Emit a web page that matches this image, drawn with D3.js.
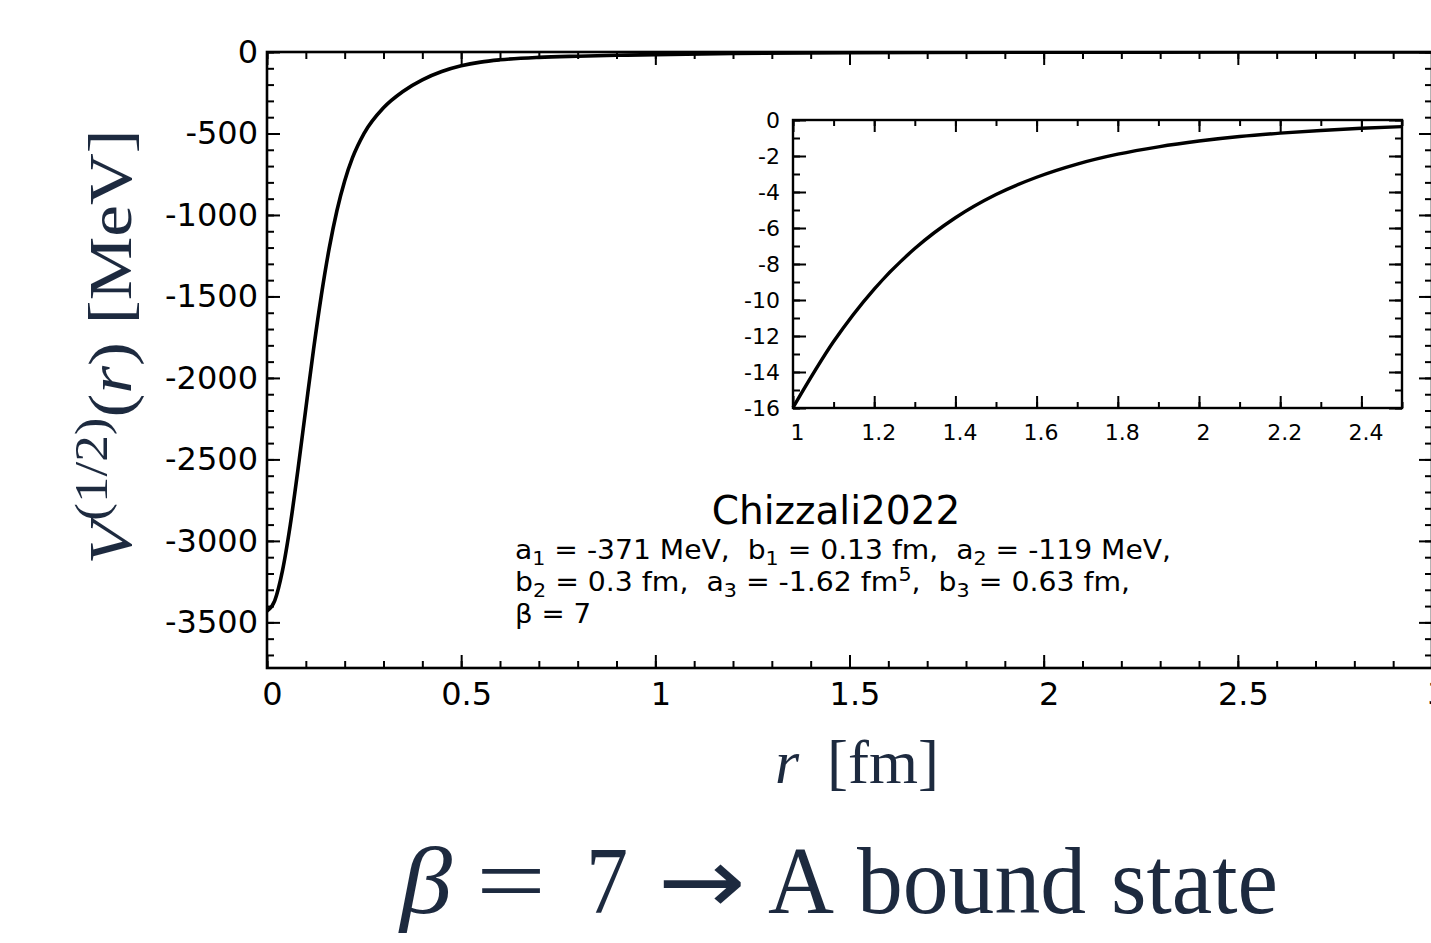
<!DOCTYPE html>
<html>
<head>
<meta charset="utf-8">
<script src="https://cdn.jsdelivr.net/npm/d3@7"></script>
<style>
  body { margin: 0; background: #fff; }
  text { white-space: pre; }
</style>
</head>
<body>
<div id="chart"></div>
<script>
// Canvas
var width = 1431;
var height = 943;

// Main curve: r [fm] and V [MeV]
const rMain = [0, 0.02, 0.04, 0.06, 0.08, 0.10, 0.12, 0.14, 0.16, 0.18, 0.20, 0.22, 0.25,
               0.30, 0.35, 0.40, 0.45, 0.50, 0.55, 0.60, 0.70, 0.80, 0.90, 1.0, 1.2, 1.5,
               2.0, 2.5, 3.0];
const vMain = [-3430, -3366, -3181, -2901, -2557, -2187, -1823, -1492, -1207, -974, -791, -650, -499,
               -342, -242, -171, -120, -85, -62, -48, -33, -25.7, -20.4, -16.0, -9.4, -4.1,
               -1.2, -0.4, -0.1];

// Inset curve (zoom of the tail)
const rInset = [1.0, 1.1, 1.2, 1.3, 1.4, 1.5, 1.6, 1.7, 1.8, 1.9, 2.0, 2.1, 2.2, 2.3, 2.4, 2.5];
const vInset = [-15.98, -12.31, -9.39, -7.14, -5.43, -4.14, -3.18, -2.45, -1.90, -1.49, -1.17,
                -0.92, -0.73, -0.58, -0.46, -0.37];

// Tick labels
const xMajor = [0, 0.5, 1, 1.5, 2, 2.5, 3];
const yMajor = [0, -500, -1000, -1500, -2000, -2500, -3000, -3500];
const xInsetMajor = [1, 1.2, 1.4, 1.6, 1.8, 2, 2.2, 2.4];
const yInsetMajor = [0, -2, -4, -6, -8, -10, -12, -14, -16];

// Annotation
const modelName = "Chizzali2022";

var sans = "'DejaVu Sans', Verdana, sans-serif";
var serif = "'Liberation Serif', 'DejaVu Serif', serif";
var navy = "#1d2a3f";

var svg = d3.select("#chart").append("svg")
  .attr("width", width)
  .attr("height", height)
  .style("display", "block");

svg.append("rect").attr("width", width).attr("height", height).attr("fill", "#fff");

// Scales
var x = d3.scaleLinear().domain([0, 3]).range([267, 1432]);
var y = d3.scaleLinear().domain([-3780, 0]).range([668, 52]);
var xi = d3.scaleLinear().domain([1, 2.5]).range([793, 1402]);
var yi = d3.scaleLinear().domain([-16, 0]).range([408, 120]);

// draw a set of inward ticks with d3 axis, domain path removed
function drawAxis(axis, tx, ty, fontSize, strokeW) {
  var g = svg.append("g")
    .attr("transform", "translate(" + tx + "," + ty + ")")
    .call(axis);
  g.select(".domain").remove();
  g.selectAll(".tick line").attr("stroke", "#000").attr("stroke-width", strokeW);
  g.selectAll(".tick text")
    .attr("fill", "#000")
    .style("font-family", sans)
    .style("font-size", fontSize + "px");
  return g;
}

var fmt = function(d) { return String(d); };

// MAIN PLOT //
var xMinor = d3.range(0, 3.001, 0.1);
var yMinor = d3.range(-3700, 1, 100);

svg.append("clipPath").attr("id", "clipMain")
  .append("rect").attr("x", 267).attr("y", 52).attr("width", 1432 - 267).attr("height", 668 - 52);

var line = d3.line()
  .x(function(d) { return x(d[0]); })
  .y(function(d) { return y(d[1]); })
  .curve(d3.curveMonotoneX);

svg.append("path")
  .datum(rMain.map(function(r, i) { return [r, vMain[i]]; }))
  .attr("clip-path", "url(#clipMain)")
  .attr("fill", "none")
  .attr("stroke", "#000")
  .attr("stroke-width", 3.6)
  .attr("d", line);

// bottom
drawAxis(d3.axisBottom(x).tickValues(xMinor).tickSize(-7).tickFormat(""), 0, 668, 32, 2);
var bx = drawAxis(d3.axisBottom(x).tickValues(xMajor).tickSize(-13).tickPadding(14).tickFormat(fmt), 0, 668, 32, 2);
bx.selectAll(".tick text").attr("dx", 5);
// top
drawAxis(d3.axisTop(x).tickValues(xMinor).tickSize(-7).tickFormat(""), 0, 52, 32, 2);
drawAxis(d3.axisTop(x).tickValues(xMajor).tickSize(-13).tickFormat(""), 0, 52, 32, 2);
// left
drawAxis(d3.axisLeft(y).tickValues(yMinor).tickSize(-7).tickFormat(""), 267, 0, 32, 2);
drawAxis(d3.axisLeft(y).tickValues(yMajor).tickSize(-13).tickPadding(9).tickFormat(fmt), 267, 0, 32, 2);
// right
drawAxis(d3.axisRight(y).tickValues(yMinor).tickSize(-7).tickFormat(""), 1432, 0, 32, 2);
drawAxis(d3.axisRight(y).tickValues(yMajor).tickSize(-13).tickFormat(""), 1432, 0, 32, 2);

svg.append("rect")
  .attr("x", 267).attr("y", 52).attr("width", 1432 - 267).attr("height", 668 - 52)
  .attr("fill", "none").attr("stroke", "#000").attr("stroke-width", 2.6);

// INSET //
svg.append("rect")
  .attr("x", 793).attr("y", 120).attr("width", 1402 - 793).attr("height", 408 - 120)
  .attr("fill", "#fff");

var xiMinor = d3.range(1, 2.501, 0.1);
var yiMinor = d3.range(-16, 0.001, 1);

var lineInset = d3.line()
  .x(function(d) { return xi(d[0]); })
  .y(function(d) { return yi(d[1]); })
  .curve(d3.curveMonotoneX);

svg.append("path")
  .datum(rInset.map(function(r, i) { return [r, vInset[i]]; }))
  .attr("fill", "none")
  .attr("stroke", "#000")
  .attr("stroke-width", 3.4)
  .attr("d", lineInset);

drawAxis(d3.axisBottom(xi).tickValues(xiMinor).tickSize(-6).tickFormat(""), 0, 408, 22, 2);
var bxi = drawAxis(d3.axisBottom(xi).tickValues(xInsetMajor).tickSize(-12).tickPadding(16).tickFormat(fmt), 0, 408, 22, 2);
bxi.selectAll(".tick text").attr("dx", 4);
drawAxis(d3.axisTop(xi).tickValues(xiMinor).tickSize(-6).tickFormat(""), 0, 120, 22, 2);
drawAxis(d3.axisTop(xi).tickValues(xInsetMajor).tickSize(-12).tickFormat(""), 0, 120, 22, 2);
drawAxis(d3.axisLeft(yi).tickValues(yiMinor).tickSize(-7).tickFormat(""), 793, 0, 22, 2);
drawAxis(d3.axisLeft(yi).tickValues(yInsetMajor).tickSize(-13).tickPadding(13).tickFormat(fmt), 793, 0, 22, 2);
drawAxis(d3.axisRight(yi).tickValues(yiMinor).tickSize(-7).tickFormat(""), 1402, 0, 22, 2);
drawAxis(d3.axisRight(yi).tickValues(yInsetMajor).tickSize(-13).tickFormat(""), 1402, 0, 22, 2);

svg.append("rect")
  .attr("x", 793).attr("y", 120).attr("width", 1402 - 793).attr("height", 408 - 120)
  .attr("fill", "none").attr("stroke", "#000").attr("stroke-width", 2.4);

// ANNOTATION //
svg.append("text")
  .attr("x", 836).attr("y", 524)
  .attr("text-anchor", "middle")
  .style("font-family", sans).style("font-size", "39px")
  .text(modelName);

// each line: list of [text, kind] with kind "", "sub" or "sup"
const paramLines = [
  [["a", ""], ["1", "sub"], [" = -371 MeV,  b", ""], ["1", "sub"], [" = 0.13 fm,  a", ""], ["2", "sub"], [" = -119 MeV,", ""]],
  [["b", ""], ["2", "sub"], [" = 0.3 fm,  a", ""], ["3", "sub"], [" = -1.62 fm", ""], ["5", "sup"], [",  b", ""], ["3", "sub"], [" = 0.63 fm,", ""]],
  [["β = 7", ""]]
];
var lineBase = [559, 591, 623];
var lineWidth = [656, 615, 76];

paramLines.forEach(function(parts, li) {
  var t = svg.append("text")
    .attr("x", 515).attr("y", lineBase[li])
    .attr("textLength", lineWidth[li])
    .attr("lengthAdjust", "spacingAndGlyphs")
    .style("font-family", sans).style("font-size", "26px")
    .attr("fill", "#000");
  var shift = 0;
  parts.forEach(function(p) {
    var target = p[1] === "sub" ? 6 : (p[1] === "sup" ? -10 : 0);
    t.append("tspan")
      .attr("dy", target - shift)
      .style("font-size", p[1] ? "19px" : "26px")
      .text(p[0]);
    shift = target;
  });
});

// AXIS LABELS //
var yl = svg.append("text")
  .attr("transform", "translate(131,347) rotate(-90)")
  .attr("text-anchor", "middle")
  .attr("textLength", 435)
  .attr("lengthAdjust", "spacingAndGlyphs")
  .style("font-family", serif).style("font-size", "62px")
  .attr("fill", navy);
yl.append("tspan").style("font-style", "italic").text("V");
yl.append("tspan").attr("dy", -24).style("font-size", "46px").text("(1/2)");
yl.append("tspan").attr("dy", 24).text("(");
yl.append("tspan").style("font-style", "italic").text("r");
yl.append("tspan").text(") [MeV]");

var xl = svg.append("text")
  .attr("x", 775).attr("y", 783)
  .style("font-family", serif).style("font-size", "62px")
  .attr("fill", navy);
xl.append("tspan").style("font-style", "italic").text("r");
xl.append("tspan").attr("x", 827).attr("textLength", 112).attr("lengthAdjust", "spacingAndGlyphs").text("[fm]");

// TITLE //
var titleParts = [
  {t: "β", x: 400, w: 52, italic: true},
  {t: "=", x: 476, w: 70},
  {t: "7", x: 586, w: 42},
  {t: "→", x: 658, w: 88, font: sans, size: 92},
  {t: "A", x: 768, w: 66},
  {t: "bound", x: 857, w: 229},
  {t: "state", x: 1111, w: 167}
];
var title = svg.append("text")
  .attr("y", 913)
  .style("font-family", serif).style("font-size", "96px")
  .attr("fill", navy);
titleParts.forEach(function(p) {
  title.append("tspan")
    .attr("x", p.x)
    .attr("textLength", p.w)
    .attr("lengthAdjust", "spacingAndGlyphs")
    .style("font-style", p.italic ? "italic" : "normal")
    .style("font-family", p.font || serif)
    .style("font-size", (p.size || 96) + "px")
    .text(p.t);
});
</script>
</body>
</html>
